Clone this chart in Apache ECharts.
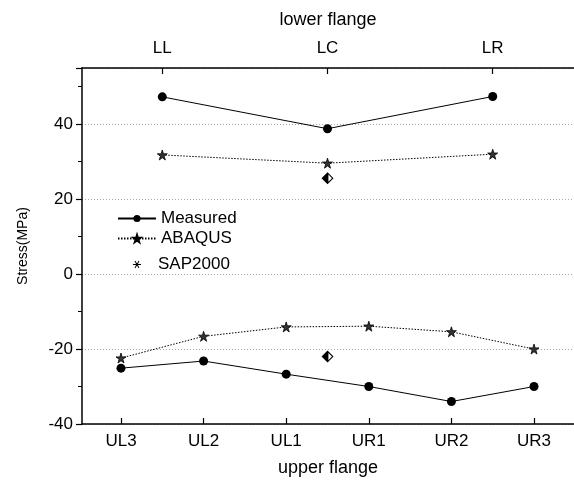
<!DOCTYPE html>
<html><head><meta charset="utf-8">
<script src="https://cdn.jsdelivr.net/npm/echarts@6/dist/echarts.min.js"></script>
<style>html,body{margin:0;padding:0;background:#fff}#c{width:574px;height:487px}</style>
</head><body><div id="c"></div>
<script>
// Data
var upperCats = ['UL3','UL2','UL1','UR1','UR2','UR3'];
var lowerCats = ['LL','LC','LR'];
var measuredUpper = [-25.1, -23.2, -26.7, -30.0, -34.0, -30.0];
var abaqusUpper   = [-22.4, -16.6, -14.1, -13.9, -15.4, -20.0];
var measuredLower = [47.3, 38.8, 47.4];
var abaqusLower   = [31.8, 29.6, 32.0];
var sapUpper = [[2.5, -22.0]];
var sapLower = [[1, 25.6]];
var yTicks = [-40, -20, 0, 20, 40];

function pairs(arr){ return arr.map(function(v,i){ return [i, v]; }); }

var starPath = 'path://M50,0 L61,35 L98,35 L68,57 L79,91 L50,70 L21,91 L32,57 L2,35 L39,35 Z';
var halfDiamond = 'path://M0,10 L10,0 L20,10 L10,20 Z M11.5,4 L11.5,16 L17.5,10 Z';
var snowflake = 'path://M0,4.4 L10,4.4 L10,5.6 L0,5.6 Z M1.98,0.97 L3.02,0.37 L8.02,9.03 L6.98,9.63 Z M6.98,0.37 L8.02,0.97 L3.02,9.63 L1.98,9.03 Z M3.5,3.5 L6.5,3.5 L6.5,6.5 L3.5,6.5 Z';

var FONT = 'Liberation Sans, Arial, sans-serif';
var chart = echarts.init(document.getElementById('c'), null, {renderer:'canvas'});

var measuredStyle = {
  type:'line', name:'Measured', symbol:'circle', symbolSize:9,
  itemStyle:{color:'#000'}, lineStyle:{color:'#000', width:1}, z:3, animation:false
};
var abaqusStyle = {
  type:'line', name:'ABAQUS', symbol:starPath, symbolSize:10,
  itemStyle:{color:'#333', borderColor:'#000', borderWidth:0.8},
  lineStyle:{color:'#000', width:1, type:[1.5,1.5]}, z:3, animation:false
};
var sapStyle = {
  type:'line', name:'SAP2000', symbol:halfDiamond, symbolSize:12,
  itemStyle:{color:'#000'}, lineStyle:{width:0, opacity:0}, z:4, animation:false
};

function legendBox(name, top){
  return {
    show:true, data:[name], left:112, top:top, orient:'vertical',
    itemWidth:38, itemHeight:9, selectedMode:false,
    textStyle:{fontFamily:FONT, fontSize:17, color:'#000'}
  };
}

var option = {
  animation:false,
  backgroundColor:'#fff',
  grid:{left:82, right:0, top:68, bottom:63, containLabel:false},
  legend:[
    legendBox('Measured', 205),
    legendBox('ABAQUS', 225),
    {show:true, data:[{name:'SAP2000', icon:snowflake}], left:128, top:251,
     itemWidth:8, itemHeight:8, selectedMode:false,
     textStyle:{fontFamily:FONT, fontSize:17, color:'#000', padding:[0,0,0,12]}}
  ],
  xAxis:[
    {
      type:'value', position:'bottom', min:-0.472, max:5.484,
      name:'upper flange', nameLocation:'middle', nameGap:35,
      nameTextStyle:{fontFamily:FONT, fontSize:18, color:'#000'},
      axisLine:{show:true, onZero:false, lineStyle:{color:'#000', width:1.5}},
      axisTick:{show:true, inside:true, length:6, customValues:[0,1,2,3,4,5], lineStyle:{color:'#000', width:1.2}},
      axisLabel:{show:true, margin:9, customValues:[0,1,2,3,4,5],
        formatter:function(v){ return upperCats[Math.round(v)]; },
        fontFamily:FONT, fontSize:17, color:'#000'},
      splitLine:{show:false}
    },
    {
      type:'value', position:'top', min:-0.486, max:2.492,
      name:'lower flange', nameLocation:'middle', nameGap:39,
      nameTextStyle:{fontFamily:FONT, fontSize:18, color:'#000'},
      axisLine:{show:true, onZero:false, lineStyle:{color:'#000', width:1.5}},
      axisTick:{show:true, inside:true, length:6, customValues:[0,1,2], lineStyle:{color:'#000', width:1.2}},
      axisLabel:{show:true, margin:11, customValues:[0,1,2],
        formatter:function(v){ return lowerCats[Math.round(v)]; },
        fontFamily:FONT, fontSize:17, color:'#000'},
      splitLine:{show:false}
    }
  ],
  yAxis:{
    type:'value', min:-40, max:55, interval:20,
    name:'Stress(MPa)', nameLocation:'middle', nameGap:52, nameRotate:90,
    nameTextStyle:{fontFamily:FONT, fontSize:14, color:'#000'},
    axisLine:{show:true, onZero:false, lineStyle:{color:'#000', width:1.5}},
    axisTick:{show:true, inside:false, length:6, lineStyle:{color:'#000', width:1.2}},
    minorTick:{show:true, splitNumber:2, length:4, lineStyle:{color:'#000', width:1}},
    axisLabel:{show:true, margin:9, showMaxLabel:false,
      formatter:function(v){ return yTicks.indexOf(v) >= 0 ? String(v) : ''; },
      fontFamily:FONT, fontSize:17, color:'#000'},
    splitLine:{show:true, lineStyle:{color:'#aaa', width:1, type:[1,2]}}
  },
  series:[
    Object.assign({}, measuredStyle, {xAxisIndex:0, data:pairs(measuredUpper)}),
    Object.assign({}, measuredStyle, {xAxisIndex:1, data:pairs(measuredLower)}),
    Object.assign({}, abaqusStyle, {xAxisIndex:0, data:pairs(abaqusUpper)}),
    Object.assign({}, abaqusStyle, {xAxisIndex:1, data:pairs(abaqusLower)}),
    Object.assign({}, sapStyle, {xAxisIndex:0, data:sapUpper}),
    Object.assign({}, sapStyle, {xAxisIndex:1, data:sapLower})
  ]
};
chart.setOption(option);
</script></body></html>
